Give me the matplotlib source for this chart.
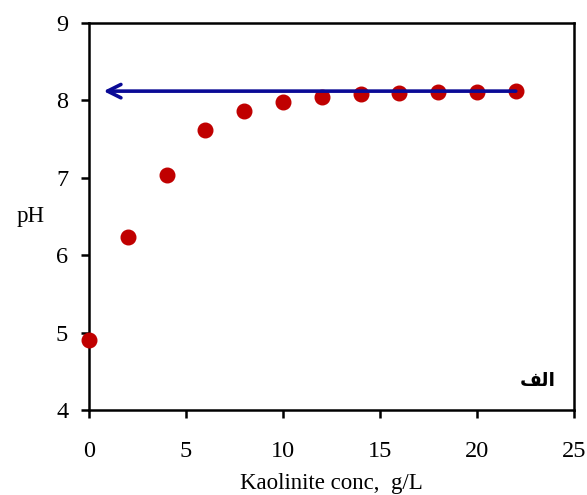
import matplotlib.pyplot as plt

# Kaolinite concentration (g/L) and measured pH
conc = [0, 2, 4, 6, 8, 10, 12, 14, 16, 18, 20, 22]
ph = [4.90, 6.23, 7.03, 7.62, 7.86, 7.98, 8.04, 8.08, 8.09, 8.11, 8.11, 8.12]

arrow_start = (22, 8.12)
arrow_end = (0.75, 8.12)

plt.rcParams['font.family'] = ['Liberation Serif', 'DejaVu Sans']

fig = plt.figure(figsize=(5.87, 4.95), dpi=100)
ax = fig.add_axes([0.1516, 0.1717, 0.8262, 0.7818])

ax.plot(conc, ph, 'o', color='#C00000', markersize=10.5, clip_on=False, zorder=3)

ax.annotate('', xy=arrow_end, xytext=arrow_start,
            arrowprops=dict(arrowstyle='->', color='#0A0A96', lw=2.6,
                            mutation_scale=24, shrinkA=0, shrinkB=0))

ax.set_xlim(0, 25)
ax.set_ylim(4, 9)
ax.set_xticks(range(0, 26, 5))
ax.set_yticks(range(4, 10))

for s in ax.spines.values():
    s.set_linewidth(1.8)
ax.tick_params(direction='out', length=6, width=1.8, labelsize=17.5, colors='black')
ax.tick_params(axis='x', pad=16)
ax.tick_params(axis='y', pad=9)

ax.set_xlabel('Kaolinite conc,  g/L', fontsize=16.5, labelpad=8)
ax.set_ylabel('pH', fontsize=16.5, rotation=0, labelpad=18, va='center')

# Arabic label "alef" written with presentation forms so it draws joined
ax.text(0.962, 0.075, '\uFED2\uFEDF\uFE8D', transform=ax.transAxes,
        ha='right', va='center', fontsize=13.5, fontweight='bold',
        family=['DejaVu Sans'])

fig.savefig('out.png', dpi=100)
